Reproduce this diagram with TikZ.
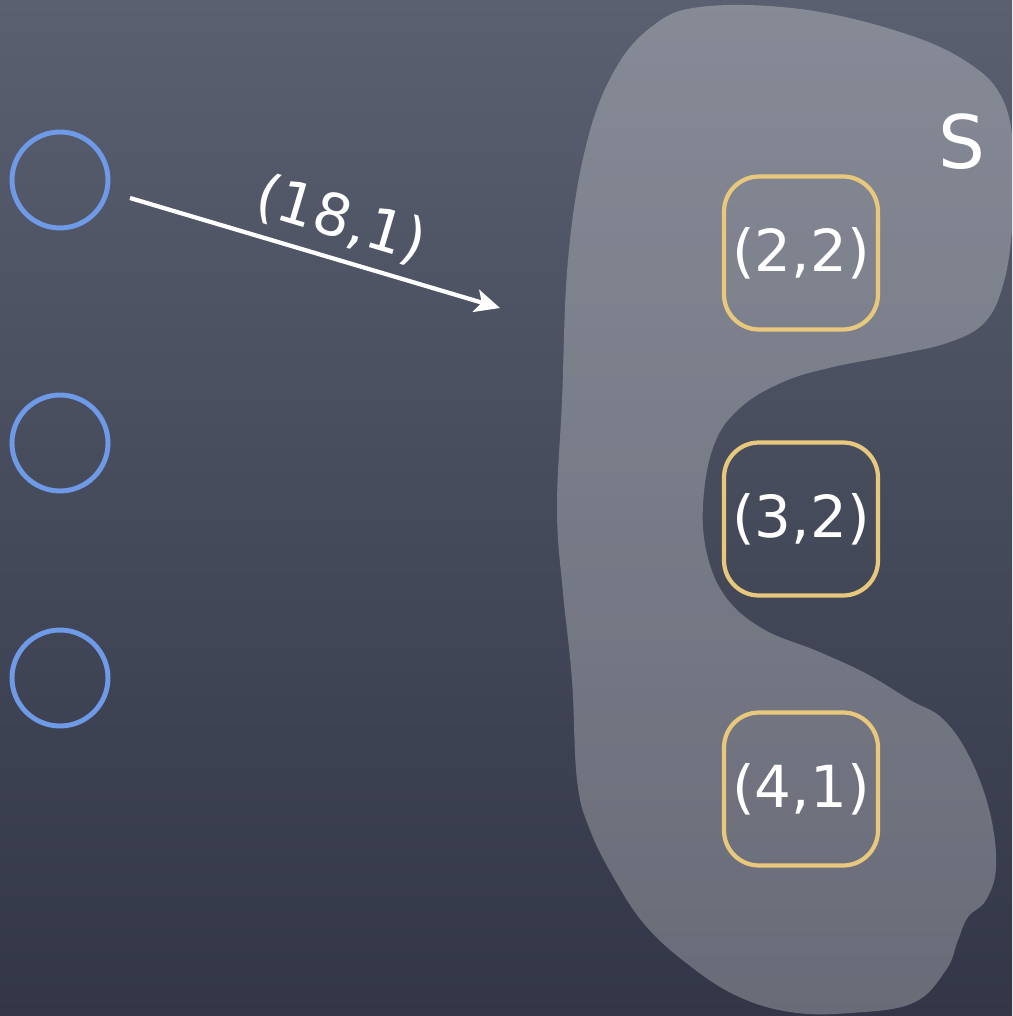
\documentclass[tikz,border=0pt]{standalone}
\usepackage{fontspec}
\setmainfont{DejaVu Sans}
\usetikzlibrary{arrows.meta,positioning}
\definecolor{BoardTop}{RGB}{90,96,112}
\definecolor{BoardBot}{RGB}{50,54,70}
\definecolor{ChalkBlue}{RGB}{111,154,232}
\definecolor{ChalkYellow}{RGB}{232,200,125}
\tikzset{
  vert/.style ={circle, draw=ChalkBlue, line width=2.8pt, minimum size=1.92cm, inner sep=0pt},
  elem/.style ={rectangle, rounded corners=0.7cm, draw=ChalkYellow, line width=2.4pt,
                minimum width=3.08cm, minimum height=3.06cm, text=white,
                font=\fontsize{33}{38}\selectfont, inner sep=0pt},
  chalk/.style={text=white, font=\fontsize{33}{38}\selectfont},
  arr/.style  ={-{Stealth[length=5mm,width=4.6mm,inset=1.2mm]}, draw=white, line width=2.4pt},
}

\begin{document}
\begin{tikzpicture}[x=0.02cm,y=-0.02cm]
  \useasboundingbox (0,0) rectangle (1012,1016);
  \clip (0,0) rectangle (1012,1016);
  \shade[top color=BoardTop, bottom color=BoardBot] (0,0) rectangle (1012,1016);

  % the set S
  \fill[white, opacity=0.27] plot[smooth cycle, tension=0.65] coordinates {
    (700,7) (800,9) (900,32) (967,62) (1003,100) (1014,160) (1012,230) (1003,285)
    (985,322) (950,342) (895,355) (833,367) (783,382) (740,408) (714,445) (703,505)
    (708,558) (728,600) (765,630) (817,651) (867,674) (910,700) (943,719) (970,758)
    (990,813) (996,867) (986,900) (968,917) (958,940) (946,970) (913,1003) (850,1013)
    (790,1012) (735,995) (685,962) (645,925) (615,880) (590,830) (577,780) (572,680)
    (563,593) (557,510) (562,400) (568,260) (585,150) (612,75) (650,28)};
  \node[chalk, font=\fontsize{42}{46}\selectfont] (slbl) at (962,142) {S};

  \foreach \i/\y in {1/180,2/443,3/678}{
    \node[vert] (v\i) at (60,\y) {};
  }
  \foreach \i/\y/\t in {1/253/{(2,2)},2/519/{(3,2)},3/789/{(4,1)}}{
    \node[elem] (e\i) at (801,\y) {\t};
  }

  \coordinate (tail) at (130,198);
  \coordinate (head) at (500,308);
  \draw[arr] (tail) -- node[chalk, sloped, above=3pt, pos=0.54] (w) {(18,1)} (head);
\end{tikzpicture}
\end{document}
